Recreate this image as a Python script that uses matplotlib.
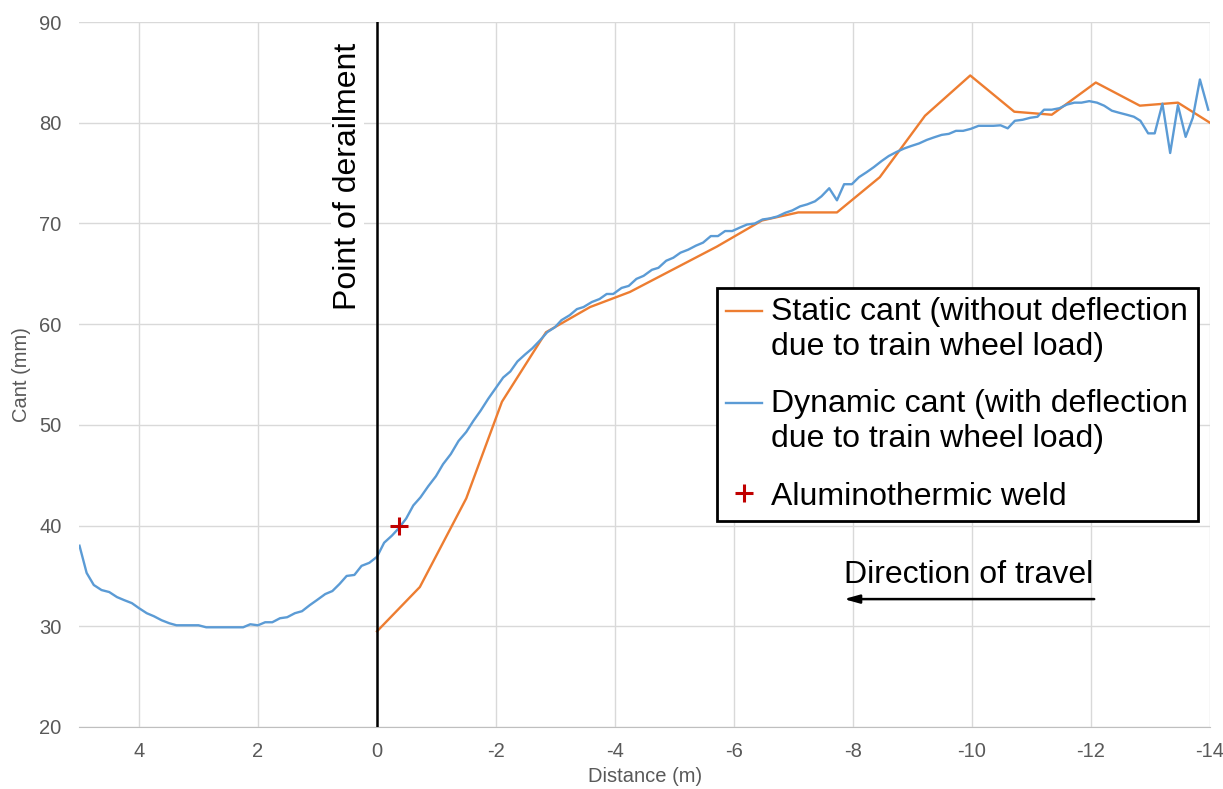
import numpy as np
import matplotlib.pyplot as plt
from matplotlib.lines import Line2D
from matplotlib.legend_handler import HandlerLine2D

plt.rcParams['font.family'] = ['Liberation Sans', 'DejaVu Sans']
plt.rcParams['axes.unicode_minus'] = False

# dynamic cant (blue), distance in m, cant in mm
dyn_x = [5.0, 4.88, 4.76, 4.63, 4.5, 4.37, 4.25, 4.12, 4.0, 3.87, 3.75, 3.62, 3.49, 3.37,
         3.25, 3.12, 3.0, 2.87, 2.75, 2.62, 2.5, 2.37, 2.25, 2.13, 2.0, 1.88, 1.76, 1.63,
         1.51, 1.38, 1.26, 1.13, 1.01, 0.87, 0.75, 0.63, 0.51, 0.38, 0.26, 0.13, 0.0,
         -0.12, -0.25, -0.36, -0.49, -0.61, -0.73, -0.86, -0.99, -1.11, -1.24, -1.37,
         -1.5, -1.62, -1.74, -1.87, -1.99, -2.12, -2.24, -2.36, -2.49, -2.61, -2.74,
         -2.86, -2.99, -3.1, -3.24, -3.36, -3.47, -3.61, -3.74, -3.86, -3.97, -4.11,
         -4.23, -4.36, -4.48, -4.62, -4.73, -4.86, -4.98, -5.1, -5.23, -5.36, -5.48,
         -5.61, -5.73, -5.85, -5.97, -6.1, -6.22, -6.35, -6.48, -6.6, -6.73, -6.86,
         -6.98, -7.11, -7.23, -7.36, -7.47, -7.6, -7.73, -7.85, -7.98, -8.1, -8.23,
         -8.35, -8.48, -8.6, -8.73, -8.86, -8.98, -9.11, -9.24, -9.36, -9.49, -9.61,
         -9.73, -9.85, -9.98, -10.11, -10.23, -10.36, -10.48, -10.6, -10.72, -10.85,
         -10.98, -11.1, -11.21, -11.34, -11.47, -11.59, -11.72, -11.84, -11.97, -12.1,
         -12.22, -12.35, -12.47, -12.6, -12.72, -12.83, -12.96, -13.07, -13.2, -13.33,
         -13.46, -13.59, -13.71, -13.83, -13.97]
dyn_y = [38.0, 35.3, 34.1, 33.6, 33.4, 32.9, 32.6, 32.3, 31.8, 31.3, 31.0, 30.6, 30.3, 30.1,
         30.1, 30.1, 30.1, 29.9, 29.9, 29.9, 29.9, 29.9, 29.9, 30.2, 30.1, 30.4, 30.4, 30.8,
         30.9, 31.3, 31.5, 32.1, 32.6, 33.2, 33.5, 34.2, 35.0, 35.1, 36.0, 36.3, 36.9,
         38.3, 39.0, 39.7, 40.7, 42.0, 42.8, 43.9, 44.9, 46.1, 47.1, 48.4,
         49.3, 50.4, 51.4, 52.6, 53.6, 54.7, 55.3, 56.3, 57.0, 57.6, 58.4,
         59.2, 59.7, 60.4, 60.9, 61.5, 61.7, 62.2, 62.5, 63.0, 63.0, 63.6,
         63.8, 64.5, 64.8, 65.4, 65.6, 66.3, 66.6, 67.1, 67.4, 67.8, 68.1,
         68.75, 68.75, 69.25, 69.25, 69.6, 69.9, 70.0, 70.4, 70.5, 70.7, 71.06,
         71.3, 71.7, 71.9, 72.2, 72.7, 73.5, 72.3, 73.9, 73.9, 74.6, 75.1,
         75.6, 76.2, 76.7, 77.1, 77.45, 77.7, 77.95, 78.3, 78.55, 78.8, 78.9,
         79.2, 79.2, 79.4, 79.7, 79.7, 79.7, 79.75, 79.45, 80.2, 80.3,
         80.5, 80.6, 81.3, 81.3, 81.45, 81.8, 82.0, 82.0, 82.15, 82.0,
         81.7, 81.2, 81.0, 80.8, 80.6, 80.2, 78.95, 78.95, 81.9, 77.0,
         81.75, 78.6, 80.5, 84.3, 81.3]

# static cant (orange)
stat_x = [0, -0.72, -1.5, -2.1, -2.84, -3.58, -4.25, -5.71, -6.47, -7.08, -7.73, -8.45,
          -9.21, -9.97, -10.71, -11.34, -12.08, -12.82, -13.46, -14.0]
stat_y = [29.5, 33.9, 42.7, 52.3, 59.2, 61.7, 63.2, 67.7, 70.3, 71.1, 71.1, 74.6,
          80.7, 84.7, 81.1, 80.8, 84.0, 81.7, 82.0, 80.0]

# weld location
weld_x = [-0.37]
weld_y = [40.0]


# legend line sits next to the first line of a two line label
class FirstLineHandler(HandlerLine2D):
    def create_artists(self, legend, orig_handle, xdescent, ydescent, width,
                       height, fontsize, trans):
        arts = super().create_artists(legend, orig_handle, xdescent, ydescent,
                                      width, height, fontsize, trans)
        for a in arts:
            a.set_ydata(np.asarray(a.get_ydata()) + 0.6 * fontsize)
        return arts


fig = plt.figure(figsize=(12.23, 7.89), dpi=100)
ax = fig.add_axes([0.065, 0.0786, 0.9244, 0.8934])

ax.plot(stat_x, stat_y, color="#ED7D31", linewidth=1.7, zorder=3)
ax.plot(dyn_x, dyn_y, color="#5B9BD5", linewidth=1.7, zorder=3)
ax.plot(weld_x, weld_y, linestyle="none", marker="+", color="#C00000",
        markersize=13, markeredgewidth=2.2, zorder=4)
ax.axvline(0, color="black", linewidth=1.8, zorder=5)

ax.set_xlim(5, -14)
ax.set_ylim(20, 90)
ax.set_xticks(np.arange(4, -15, -2))
ax.set_yticks(np.arange(20, 91, 10))
ax.grid(True, color="#d9d9d9", linewidth=1)
ax.set_axisbelow(True)
for s in ["top", "right", "left"]:
    ax.spines[s].set_visible(False)
ax.spines["bottom"].set_color("#bfbfbf")
ax.tick_params(length=0, labelsize=14.5, labelcolor="#595959")
ax.tick_params(axis="x", pad=11)
ax.tick_params(axis="y", pad=13)
ax.set_xlabel("Distance (m)", fontsize=14.5, color="#595959", labelpad=4)
ax.set_ylabel("Cant (mm)", fontsize=14.5, color="#595959", labelpad=6)

ax.text(0.24, 87.9, "Point of derailment", rotation=90, ha="right", va="top",
        fontsize=23, color="black", zorder=4,
        bbox=dict(facecolor="white", edgecolor="none", pad=1))

h_static = Line2D([], [], color="#ED7D31", linewidth=1.7)
h_dyn = Line2D([], [], color="#5B9BD5", linewidth=1.7)
h_weld = Line2D([], [], linestyle="none", marker="+", color="#C00000",
                markersize=13, markeredgewidth=2.2)
labels = ["Static cant (without deflection\ndue to train wheel load)",
          "Dynamic cant (with deflection\ndue to train wheel load)",
          "Aluminothermic weld"]
leg = ax.legend([h_static, h_dyn, h_weld], labels, loc="upper right",
                bbox_to_anchor=(0.989, 0.623), borderaxespad=0, fontsize=23,
                frameon=True, fancybox=False, handlelength=1.1,
                handletextpad=0.3, labelspacing=0.86, borderpad=0.3,
                handler_map={h_static: FirstLineHandler(),
                             h_dyn: FirstLineHandler()})
leg.get_frame().set_edgecolor("black")
leg.get_frame().set_linewidth(2)
leg.get_frame().set_alpha(1)

ax.text(-7.85, 33.6, "Direction of travel", fontsize=23, ha="left", va="bottom")
ax.annotate("", xy=(-7.8, 32.7), xytext=(-12.1, 32.7),
            arrowprops=dict(arrowstyle="-|>,head_length=0.9,head_width=0.25",
                            color="black", linewidth=1.8))

fig.savefig("out.png", dpi=100)
